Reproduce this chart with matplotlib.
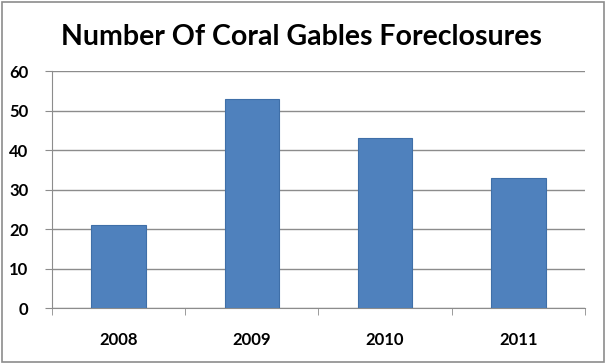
import matplotlib.pyplot as plt
from matplotlib.patches import Rectangle

years = ["2008", "2009", "2010", "2011"]
foreclosures = [21, 53, 43, 33]
y_ticks = [0, 10, 20, 30, 40, 50, 60]

plt.rcParams["font.family"] = ["Lato", "DejaVu Sans"]

fig = plt.figure(figsize=(6.06, 3.64), dpi=100)
fig.patch.set_facecolor("white")
fig.patches.append(Rectangle((0.004, 0.006), 0.992, 0.988, transform=fig.transFigure,
                             fill=False, edgecolor="#8c8c8c", linewidth=1.2))

ax = fig.add_axes([0.0858, 0.1538, 0.8795, 0.6511])
x = list(range(len(years)))
ax.bar(x, foreclosures, width=0.41, color="#4F81BD", edgecolor="#3F6FA8",
       linewidth=0.8, zorder=3)

ax.set_xlim(-0.5, len(years) - 0.5)
ax.set_ylim(0, 60)
ax.set_yticks(y_ticks)
ax.set_yticklabels([str(v) for v in y_ticks], fontsize=12, fontweight="bold")
ax.set_xticks(x)
ax.set_xticklabels(years, fontsize=12, fontweight="bold")
ax.tick_params(axis="x", length=0, pad=17)
ax.set_xticks([i + 0.5 for i in range(-1, len(years))], minor=True)
ax.tick_params(axis="x", which="minor", length=5, color="#8c8c8c", direction="out")
ax.tick_params(axis="y", length=5, color="#8c8c8c", direction="out", pad=12)

ax.grid(axis="y", color="#8c8c8c", linewidth=1.0, zorder=0)
for side in ["top", "right"]:
    ax.spines[side].set_visible(False)
for side in ["left", "bottom"]:
    ax.spines[side].set_color("#8c8c8c")

fig.text(0.497, 0.897, "Number Of Coral Gables Foreclosures", ha="center", va="center",
         fontsize=20.5, fontweight="bold")

fig.savefig("out.png", dpi=100)
